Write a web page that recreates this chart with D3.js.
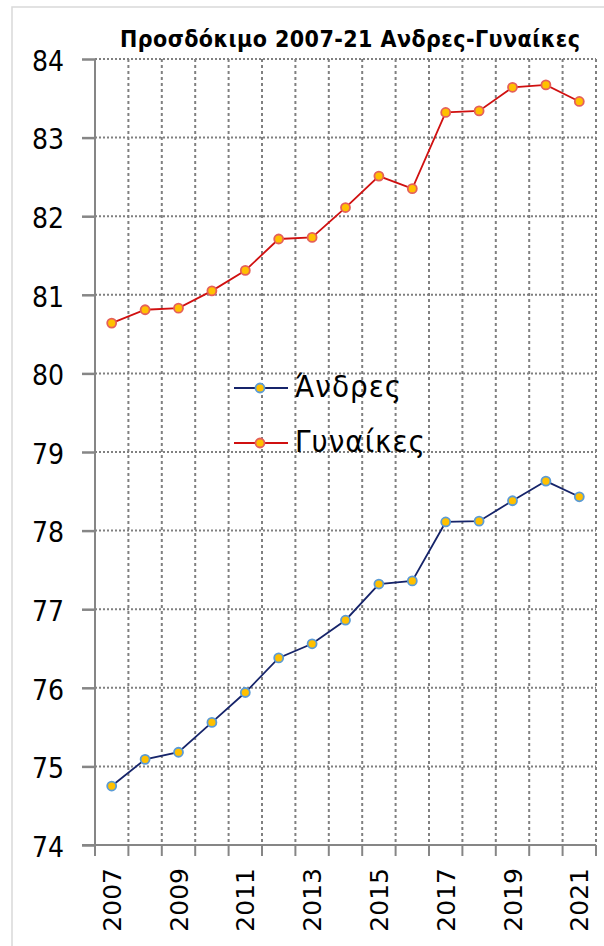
<!DOCTYPE html>
<html>
<head>
<meta charset="utf-8">
<script src="https://cdn.jsdelivr.net/npm/d3@7"></script>
<style>
  body { margin: 0; background: #fff; }
  svg { display: block; }
</style>
</head>
<body>
<div id="vis"></div>
<script>
// values
var years = [2007, 2008, 2009, 2010, 2011, 2012, 2013, 2014, 2015, 2016, 2017, 2018, 2019, 2020, 2021];
var men = [74.75, 75.09, 75.18, 75.56, 75.94, 76.38, 76.56, 76.86, 77.32, 77.36, 78.11, 78.12, 78.38, 78.63, 78.43];
var women = [80.64, 80.81, 80.83, 81.05, 81.31, 81.71, 81.73, 82.11, 82.51, 82.35, 83.32, 83.34, 83.64, 83.67, 83.46];
var yTicks = [74, 75, 76, 77, 78, 79, 80, 81, 82, 83, 84];
var xLabels = [2007, 2009, 2011, 2013, 2015, 2017, 2019, 2021];
var seriesNames = ['Άνδρες', 'Γυναίκες'];
var title = 'Προσδόκιμο 2007-21 Ανδρες-Γυναίκες';

var width = 604,
    height = 946,
    plotLeft = 95,
    plotRight = 596,
    plotTop = 59,
    plotBottom = 845;

var gridColor = '#808080',
    axisColor = '#868686',
    narrow = '"Liberation Sans Narrow", "DejaVu Sans Condensed", sans-serif';

var svg = d3.select('#vis')
  .append('svg')
    .attr('width', width)
    .attr('height', height);

// outer frame of the chart area
svg.append('rect')
  .attr('x', 12).attr('y', 7)
  .attr('width', width)
  .attr('height', height)
  .attr('fill', 'none')
  .attr('stroke', '#d9d9d9')
  .attr('stroke-width', 1.5);

var x = d3.scaleBand()
  .domain(years)
  .range([plotLeft, plotRight])
  .padding(0);

var y = d3.scaleLinear()
  .domain([74, 84])
  .range([plotBottom, plotTop]);

var bw = x.bandwidth();
var bounds = years.map(function(d) { return x(d) + bw; });

// horizontal gridlines
svg.append('g')
  .selectAll('line')
  .data(yTicks.filter(function(d) { return d > 74; }))
  .enter()
  .append('line')
    .attr('x1', plotLeft).attr('x2', plotRight)
    .attr('y1', function(d) { return y(d); })
    .attr('y2', function(d) { return y(d); })
    .attr('stroke', gridColor)
    .attr('stroke-width', 2)
    .attr('stroke-dasharray', '2,2');

// vertical gridlines, between categories
svg.append('g')
  .selectAll('line')
  .data(bounds)
  .enter()
  .append('line')
    .attr('x1', function(d) { return d; })
    .attr('x2', function(d) { return d; })
    .attr('y1', plotTop).attr('y2', plotBottom)
    .attr('stroke', gridColor)
    .attr('stroke-width', 2)
    .attr('stroke-dasharray', '3,3');

// y axis
var yAxis = d3.axisLeft(y)
  .tickValues(yTicks)
  .tickSize(13)
  .tickPadding(18);

var gy = svg.append('g')
  .attr('transform', 'translate(' + plotLeft + ',0)')
  .call(yAxis);
gy.select('.domain').remove();
gy.selectAll('.tick line')
  .attr('stroke', axisColor)
  .attr('stroke-width', 2.5);
gy.selectAll('.tick text')
  .attr('fill', '#000')
  .style('font-family', narrow)
  .style('font-size', '28px')
  .attr('dy', '0.4em');

svg.append('line')
  .attr('x1', plotLeft).attr('x2', plotLeft)
  .attr('y1', plotTop).attr('y2', plotBottom)
  .attr('stroke', axisColor)
  .attr('stroke-width', 2);

// x axis
var xAxis = d3.axisBottom(x)
  .tickValues(xLabels)
  .tickSize(0)
  .tickPadding(0);

var gx = svg.append('g')
  .attr('transform', 'translate(0,' + plotBottom + ')')
  .call(xAxis);
gx.select('.domain').remove();
gx.selectAll('.tick text')
  .attr('fill', '#000')
  .attr('transform', 'rotate(-90)')
  .attr('text-anchor', 'end')
  .attr('x', -23)
  .attr('y', 0)
  .attr('dy', '0.36em')
  .style('font-family', '"DejaVu Sans", sans-serif')
  .style('font-size', '25px');

svg.append('line')
  .attr('x1', plotLeft - 13).attr('x2', plotRight)
  .attr('y1', plotBottom).attr('y2', plotBottom)
  .attr('stroke', axisColor)
  .attr('stroke-width', 2);

svg.append('g')
  .selectAll('line')
  .data([plotLeft].concat(bounds))
  .enter()
  .append('line')
    .attr('x1', function(d) { return d; })
    .attr('x2', function(d) { return d; })
    .attr('y1', plotBottom).attr('y2', plotBottom + 11)
    .attr('stroke', axisColor)
    .attr('stroke-width', 2);

// series
var series = [
  { name: seriesNames[0], values: men, line: '#16246a', rim: '#5b9bd5' },
  { name: seriesNames[1], values: women, line: '#d01010', rim: '#e5605a' }
];

var line = d3.line()
  .x(function(d, i) { return x(years[i]) + bw / 2; })
  .y(function(d) { return y(d); });

series.forEach(function(s) {
  svg.append('path')
    .datum(s.values)
    .attr('d', line)
    .attr('fill', 'none')
    .attr('stroke', s.line)
    .attr('stroke-width', 1.8);

  svg.append('g')
    .selectAll('circle')
    .data(s.values)
    .enter()
    .append('circle')
      .attr('cx', function(d, i) { return x(years[i]) + bw / 2; })
      .attr('cy', function(d) { return y(d); })
      .attr('r', 4.5)
      .attr('fill', '#ffc000')
      .attr('stroke', s.rim)
      .attr('stroke-width', 1.8);
});

// legend
var legend = svg.append('g')
  .selectAll('g')
  .data(series)
  .enter()
  .append('g')
    .attr('transform', function(d, i) { return 'translate(234,' + (388 + i * 55) + ')'; });

legend.append('line')
  .attr('x1', 0).attr('x2', 54)
  .attr('stroke', function(d) { return d.line; })
  .attr('stroke-width', 2);

legend.append('circle')
  .attr('cx', 26).attr('cy', 0)
  .attr('r', 4.5)
  .attr('fill', '#ffc000')
  .attr('stroke', function(d) { return d.rim; })
  .attr('stroke-width', 1.8);

legend.append('text')
  .attr('x', 61)
  .attr('y', 9)
  .style('font-family', narrow)
  .style('font-size', '31px')
  .style('letter-spacing', '1px')
  .text(function(d) { return d.name; });

// title
svg.append('text')
  .attr('x', 350)
  .attr('y', 47)
  .attr('text-anchor', 'middle')
  .attr('textLength', 460)
  .attr('lengthAdjust', 'spacing')
  .style('font-family', narrow)
  .style('font-weight', 'bold')
  .style('font-size', '23px')
  .text(title);
</script>
</body>
</html>
